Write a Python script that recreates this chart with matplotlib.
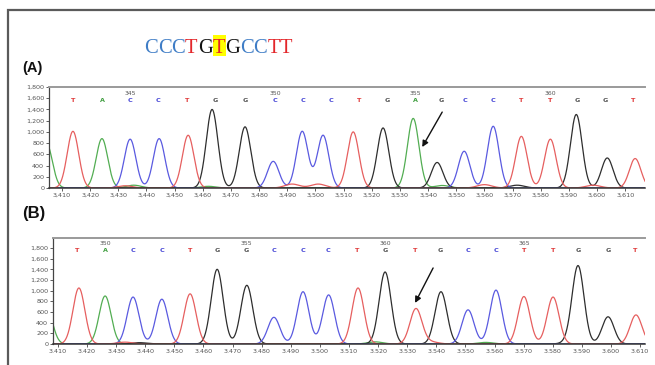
import numpy as np
import matplotlib
matplotlib.use("Agg")
import matplotlib.pyplot as plt
from matplotlib.patches import Rectangle
from matplotlib import transforms

# ---------------- data ----------------
title_seq = "CCCTGTGCCTT"
title_highlight = 5

# Panel A (reference)
A_peak_base = "ATACCTGGCCCTGAGCCTTGGT"
A_peak_pos = [3404.5, 3413.9, 3424.2, 3434.2, 3444.5, 3454.8, 3463.3, 3475.0, 3485.0,
              3495.3, 3502.7, 3513.4, 3524.0, 3534.7, 3543.2, 3552.8, 3563.1, 3573.1,
              3583.4, 3592.6, 3603.6, 3613.5]
A_peak_h = [800, 1010, 880, 870, 880, 940, 1400, 1090, 475, 1010, 940, 1000, 1070, 1240,
            455, 655, 1100, 920, 870, 1310, 535, 525]
A_minor_base = "TAATTATGT"
A_minor_pos = [3432.4, 3435.5, 3462.0, 3491.7, 3501.0, 3545.0, 3560.0, 3571.6, 3598.6]
A_minor_h = [40, 50, 30, 70, 70, 45, 60, 50, 50]
A_call_base = "TACCTGGCCCTGAGCCTTGGT"
A_call_pos = [3413.9, 3424.2, 3434.2, 3444.1, 3454.4, 3464.4, 3475.0, 3485.7, 3495.6,
              3505.6, 3515.5, 3525.5, 3535.4, 3544.6, 3553.2, 3563.1, 3573.1, 3583.4,
              3592.9, 3602.9, 3612.8]
A_first_number = 343

# Panel B (sample)
B_peak_base = "ATACCTGGCCCTGTGCCTTGGT"
B_peak_pos = [3406.0, 3417.2, 3426.2, 3435.8, 3445.7, 3455.4, 3464.7, 3474.9, 3484.2,
              3494.2, 3503.0, 3513.1, 3522.4, 3533.0, 3541.6, 3550.9, 3560.5, 3570.1,
              3580.1, 3588.7, 3599.0, 3608.6]
B_peak_h = [700, 1050, 900, 880, 840, 940, 1400, 1100, 500, 980, 920, 1050, 1350, 660,
            980, 640, 1010, 890, 880, 1450, 510, 545]
B_minor_base = "TGATAG"
B_minor_pos = [3433.0, 3438.0, 3519.0, 3538.0, 3557.0, 3586.0]
B_minor_h = [35, 25, 40, 40, 30, 35]
B_call_base = "TACCTGGCCCTGTGCCTTGGT"
B_call_pos = [3416.5, 3426.2, 3435.8, 3445.7, 3455.4, 3464.6, 3474.6, 3484.2, 3494.2,
              3502.8, 3512.7, 3522.4, 3532.7, 3541.3, 3550.9, 3560.5, 3570.1, 3580.1,
              3588.7, 3599.0, 3608.3]
B_first_number = 349

x_ticks = list(range(3410, 3611, 10))
y_ticks = list(range(0, 1801, 200))

# ---------------- style ----------------
W, H = 655, 365
fig = plt.figure(figsize=(W / 100, H / 100), dpi=100)

TRACE = {'A': '#52ad52', 'C': '#5a5ae0', 'G': '#2e2e2e', 'T': '#e65f5f'}
CALL = {'A': '#3c9c3c', 'C': '#4646d6', 'G': '#555555', 'T': '#e03a3a'}
TITLE = {'C': '#3f7dc6', 'T': '#e3262a', 'G': '#111111'}


def px_axes(l, t, r, b):
    return fig.add_axes([l / W, 1 - b / H, (r - l) / W, (b - t) / H])


def draw_panel(ax, xlim, ytop, pos, hts, bases, mpos, mh, mb, calls, cpos,
               first_num, letter_y, num_y, sep):
    x = np.linspace(xlim[0] - 15, xlim[1] + 15, 4000)
    for b in 'AGCT':
        y = np.zeros_like(x)
        for p, hh, bb in zip(pos, hts, bases):
            if bb == b:
                y += hh * np.exp(-0.5 * ((x - p) / 2.05) ** 2)
        for p, hh, bb in zip(mpos, mh, mb):
            if bb == b:
                y += hh * np.exp(-0.5 * ((x - p) / 2.6) ** 2)
        ax.plot(x, y, color=TRACE[b], lw=0.9, solid_joinstyle='round')
    ax.set_xlim(*xlim)
    ax.set_ylim(0, ytop)
    ax.set_xticks(x_ticks)
    ax.set_xticklabels([f"{v:,}".replace(',', sep) for v in x_ticks])
    ax.set_yticks(y_ticks)
    ax.set_yticklabels([f"{v:,}" for v in y_ticks])
    ax.tick_params(axis='both', labelsize=4.6, labelcolor='#555555', length=2,
                   width=0.6, color='#444444', pad=1.5)
    ax.spines['right'].set_visible(False)
    ax.spines['top'].set_color('#9a9a9a')
    ax.spines['top'].set_linewidth(1.4)
    ax.spines['left'].set_color('#444444')
    ax.spines['left'].set_linewidth(0.9)
    ax.spines['bottom'].set_color('#333333')
    ax.spines['bottom'].set_linewidth(1.1)
    ax.patch.set_alpha(0)
    tr = transforms.blended_transform_factory(ax.transData, ax.transAxes)
    for i, (c, p) in enumerate(zip(calls, cpos)):
        ax.text(p, letter_y, c, transform=tr, ha='center', va='center',
                fontsize=4.6, color=CALL[c], fontweight='bold')
        n = first_num + i
        if n % 5 == 0:
            ax.text(p, num_y, str(n), transform=tr, ha='center', va='center',
                    fontsize=4.4, color='#555555')


axA = px_axes(49, 87, 645, 188)
draw_panel(axA, (3405.4, 3617.0), 1800, A_peak_pos, A_peak_h, A_peak_base,
           A_minor_pos, A_minor_h, A_minor_base, A_call_base, A_call_pos,
           A_first_number, 0.87, 0.935, ',')

axB = px_axes(53, 238, 645, 344)
draw_panel(axB, (3408.3, 3611.7), 1987, B_peak_pos, B_peak_h, B_peak_base,
           B_minor_pos, B_minor_h, B_minor_base, B_call_base, B_call_pos,
           B_first_number, 0.885, 0.952, '.')

# arrows
axA.annotate('', xy=(3537.9, 730), xytext=(3545.0, 1353),
             arrowprops=dict(arrowstyle='-|>', color='#111111', lw=1.0,
                             mutation_scale=9, shrinkA=0, shrinkB=0))
axB.annotate('', xy=(3532.7, 770), xytext=(3538.9, 1425),
             arrowprops=dict(arrowstyle='-|>', color='#111111', lw=1.0,
                             mutation_scale=9, shrinkA=0, shrinkB=0))

# panel labels
fig.text(22 / W, 1 - 68 / H, "(A)", fontsize=10.5, fontweight='bold',
         family='Liberation Sans', va='center', ha='left', color='#111111')
fig.text(22 / W, 1 - 213 / H, "(B)", fontsize=12, fontweight='bold',
         family='Liberation Sans', va='center', ha='left', color='#111111')

# title sequence: letters laid out with Times-like advance widths
ADV = {'C': 0.667, 'T': 0.611, 'G': 0.722}
tsize = 14.8
em = tsize * 100 / 72.0
x = 144.0
for i, ch in enumerate(title_seq):
    w = ADV[ch] * em
    if i == title_highlight:
        fig.add_artist(Rectangle(((x + 0.3) / W, 1 - 56 / H), (w + 0.6) / W, 21 / H,
                                 transform=fig.transFigure, color='#ffff00', lw=0,
                                 zorder=1))
    fig.text((x + w / 2) / W, 1 - 53 / H, ch, fontsize=tsize,
             family='Liberation Serif', color=TITLE[ch], ha='center',
             va='baseline', zorder=2)
    x += w

# outer frame
fig.add_artist(Rectangle((8 / W, -0.1), 1.2, (1 - 10 / H) + 0.1,
                         transform=fig.transFigure, fill=False, ec='#5a5a5a',
                         lw=1.6))

fig.savefig("out.png", dpi=100)
